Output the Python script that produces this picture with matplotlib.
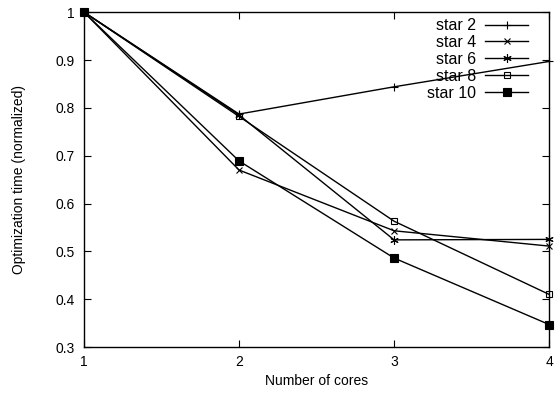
import numpy as np
from matplotlib import pyplot as plt

plt.rcParams['font.family'] = ['Liberation Sans', 'DejaVu Sans']

cores = [1, 2, 3, 4]
star2 = [1.0, 0.787, 0.844, 0.897]
star4 = [1.0, 0.670, 0.543, 0.511]
star6 = [1.0, 0.785, 0.524, 0.525]
star8 = [1.0, 0.782, 0.563, 0.410]
star10 = [1.0, 0.689, 0.486, 0.347]

labels = ['star 2', 'star 4', 'star 6', 'star 8', 'star 10']
series = [star2, star4, star6, star8, star10]
markers = ['+', 'x', (6, 2, 0), 's', 's']
faces = ['k', 'k', 'k', 'none', 'k']
sizes = [6, 5, 6, 5, 6]

fig = plt.figure(figsize=(5.55, 3.93), dpi=100)
ax = fig.add_axes([0.1514, 0.117, 0.838, 0.852])

for ys, lab, m, fc, ms in zip(series, labels, markers, faces, sizes):
    ax.plot(cores, ys, color='k', lw=1.0, marker=m, ms=ms,
            mfc=fc, mec='k', mew=0.8, label=lab, clip_on=False)

ax.set_xlim(1, 4)
ax.set_ylim(0.3, 1.0)
ax.set_xticks(cores)
ax.set_yticks(np.arange(0.3, 1.01, 0.1))
ax.set_yticklabels(['0.3', '0.4', '0.5', '0.6', '0.7', '0.8', '0.9', '1'])
ax.tick_params(direction='in', top=True, right=True, length=5, labelsize=10)
ax.tick_params(axis='x', pad=6)
ax.tick_params(axis='y', pad=7)
for s in ax.spines.values():
    s.set_linewidth(1.0)

ax.set_xlabel('Number of cores', fontsize=10, labelpad=3)
ax.set_ylabel('Optimization time (normalized)', fontsize=10, labelpad=21)

ax.legend(loc='upper right', bbox_to_anchor=(0.99, 1.03), frameon=False,
          markerfirst=False, fontsize=11.5, handlelength=2.7, labelspacing=0.12,
          borderaxespad=0.6, handletextpad=0.6)

fig.savefig('out.png', dpi=100)
